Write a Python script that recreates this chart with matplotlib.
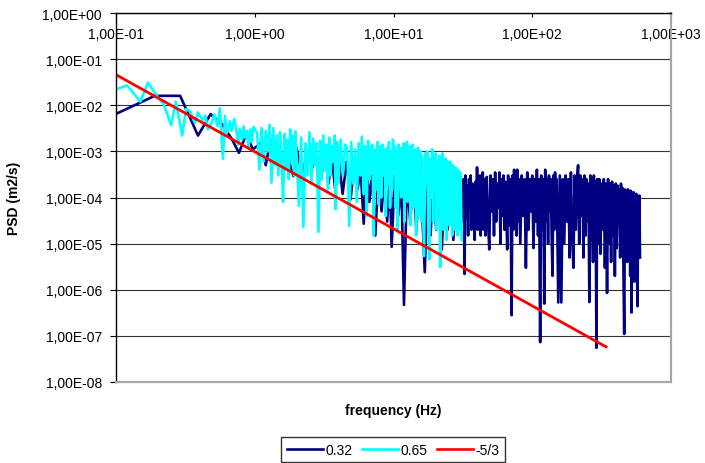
import math
import matplotlib
matplotlib.use("Agg")
import matplotlib.pyplot as plt
from matplotlib.ticker import FixedLocator, FuncFormatter, NullLocator
from matplotlib.lines import Line2D

plt.rcParams['font.family'] = ['Liberation Sans', 'DejaVu Sans']

# series 0.32 (navy)
f_032 = [0.1, 0.19, 0.29, 0.39, 0.48, 0.58, 0.68, 0.77, 0.87, 0.97,
         1.1, 1.2, 1.3, 1.4, 1.5, 1.6, 1.7, 1.8, 1.9, 2.0,
         2.2, 2.4, 2.6, 2.8, 3.0, 3.2, 3.4, 3.6, 3.8, 4.0,
         4.3, 4.6, 4.9, 5.2, 5.5, 5.8, 6.1, 6.4, 6.7, 7.0,
         7.4, 7.8, 8.2, 8.6, 9.0, 9.4, 9.7, 10.2, 10.8, 11.4,
         11.9, 12.5, 13.2, 13.9, 14.6, 15.4, 16.2, 16.8, 17.6, 18.5,
         19.4, 20.3, 21.3, 22.3, 23.4, 24.5, 25.7, 27.0, 28.4, 29.8,
         31, 31.5, 32, 32.5, 33, 33.5, 34, 34.5, 35, 35.5,
         36, 36.5, 37, 37.5, 38, 38.5, 39, 39.5, 40, 40.5,
         41, 41.5, 42, 42.5, 43, 43.5, 44, 44.5, 45,
         46, 47, 48, 49, 50, 51, 52, 53, 54, 55,
         56, 57, 58, 59, 60, 61, 62, 63, 64, 65,
         66, 67, 68, 69, 70, 71, 72, 73, 74, 75,
         76, 77, 78, 79, 80,
         82, 84, 86, 88, 90, 92, 94, 96, 98, 100,
         102, 104, 106, 108, 110, 112, 114, 116, 118, 120,
         122, 124, 126, 128, 130, 132, 134, 136, 138, 140,
         142, 144, 146, 148, 150,
         154, 158, 162, 166, 170, 174, 178, 182, 186, 190,
         194, 198, 202, 206, 210, 214, 218, 222, 226, 230,
         234, 238, 242, 246, 250, 254, 258, 262, 266, 270,
         274, 278, 282, 286, 290, 294, 298,
         304, 310, 316, 322, 328, 334, 340, 346, 352, 358,
         364, 370, 376, 382, 388, 394, 400, 406, 412, 418,
         424, 430, 436, 442, 448, 454, 460, 466, 472, 478,
         484, 490, 496, 502, 508, 514, 520, 526, 532, 538,
         544, 550, 556, 562, 568, 574, 580, 586, 592, 598]
psd_032 = [6.5e-3, 1.6e-2, 1.6e-2, 2.2e-3, 6.4e-3, 3.9e-3, 1.9e-3, 9.3e-4, 2.4e-3, 1.1e-3,
           1.5e-3, 5e-4, 1.8e-3, 6e-4, 1.2e-3, 4e-4, 1.5e-3, 5e-4, 2.9e-4, 1.2e-3,
           3e-4, 1e-3, 4.5e-4, 8e-4, 2.5e-4, 9e-4, 2e-4, 7e-4, 1.5e-4, 8e-4,
           1.2e-4, 6e-4, 9e-5, 5e-4, 1.5e-4, 4e-4, 2.7e-5, 5e-4, 8e-5, 3e-4,
           1.5e-5, 4e-4, 5e-5, 3e-4, 3e-5, 2.5e-4, 8.5e-6, 3e-4, 4e-5, 2e-4,
           4.7e-7, 2.5e-4, 3e-5, 3e-4, 2e-5, 2.5e-4, 3e-5, 2.4e-6, 2e-4, 1.5e-5,
           2.5e-4, 2e-5, 1.5e-4, 7.5e-6, 2e-4, 2e-5, 1.5e-4, 1.2e-5, 2e-4, 2e-5,
           2e-4, 3e-5, 2.5e-4, 2.2e-6, 3e-4, 4e-5, 1.8e-4, 1.5e-5, 2.5e-4, 6e-5,
           3e-4, 2e-5, 2e-4, 5e-5, 1.5e-4, 1.2e-5, 2.2e-4, 3e-5, 4.5e-4, 2e-5,
           2.5e-4, 8e-5, 3e-4, 1.5e-5, 2e-4, 4e-5, 3.5e-4, 2e-5, 2.5e-4,
           1.5e-5, 2.8e-4, 3e-5, 7.5e-6, 3e-4, 5e-5, 2.5e-4, 1.5e-5, 3.5e-4, 3e-5,
           2e-4, 6e-5, 3.5e-4, 1e-5, 2.5e-4, 4e-5, 3e-4, 2e-5, 2.2e-4, 5e-5,
           7.5e-6, 3e-4, 2.5e-5, 2.5e-4, 4e-5, 2.8e-7, 3e-4, 2e-5, 4e-4, 6e-5,
           2.5e-4, 1.5e-5, 4e-4, 3e-5, 2.5e-4,
           1e-5, 3e-4, 4e-5, 2.5e-4, 3e-6, 3.5e-4, 2e-5, 2.5e-4, 5e-5, 3e-4,
           8e-6, 2.5e-4, 3e-5, 4e-4, 1.5e-5, 2.5e-4, 7.3e-8, 3e-4, 2e-5, 2.5e-4,
           5e-7, 4e-4, 3e-5, 2.5e-4, 1e-5, 3e-4, 5e-5, 2.5e-4, 1.5e-5, 2e-6,
           3e-4, 2e-5, 3.5e-4, 4e-5, 2.5e-4,
           5.3e-7, 3e-4, 5.3e-7, 2.5e-4, 1e-5, 3e-4, 3e-5, 2.5e-4, 5e-6, 3.5e-4,
           1.5e-5, 3e-6, 3e-4, 2e-5, 2.5e-4, 5e-4, 1e-5, 3e-4, 4e-5, 2.5e-4,
           5e-6, 3e-4, 1.5e-5, 2.5e-4, 3e-5, 2e-4, 5.4e-7, 3e-4, 1.2e-5, 2.5e-4,
           4e-6, 3e-4, 2e-5, 2.2e-4, 5.5e-8, 2.5e-4, 1e-5,
           2.5e-4, 6e-6, 2e-4, 2e-5, 2.5e-4, 3e-6, 2e-4, 8.5e-7, 2.5e-4, 1e-5,
           2e-4, 4e-6, 2.2e-4, 1.5e-5, 1.8e-4, 2e-6, 2e-4, 8e-6, 1.8e-4, 3e-5,
           1.5e-4, 5e-6, 2e-4, 1.5e-5, 1.6e-4, 3e-6, 1.1e-7, 1.5e-4, 1e-5, 1.4e-4,
           4e-6, 1.5e-4, 2e-5, 1.2e-4, 2e-6, 1.4e-4, 3.2e-7, 1.2e-4, 8e-6, 1.3e-4,
           1.5e-6, 1e-4, 1e-5, 1.2e-4, 3e-6, 4.4e-7, 1e-4, 6e-6, 1.1e-4, 5e-6]

# series 0.65 (cyan)
f_065 = [0.1, 0.12, 0.15, 0.17, 0.2, 0.22, 0.25, 0.27, 0.3, 0.32,
         0.34, 0.37, 0.39, 0.42, 0.44, 0.46, 0.49, 0.51, 0.54, 0.56,
         0.59, 0.61, 0.63, 0.66, 0.68, 0.71, 0.73, 0.76, 0.78, 0.81,
         0.83, 0.85, 0.88, 0.9, 0.93, 0.95, 0.98,
         1.04, 1.08, 1.12, 1.16, 1.2, 1.24, 1.28, 1.32, 1.36, 1.4,
         1.44, 1.48, 1.52, 1.56, 1.6, 1.64, 1.68, 1.72, 1.76, 1.8,
         1.84, 1.88, 1.92, 1.96, 2.0,
         2.08, 2.16, 2.24, 2.32, 2.4, 2.48, 2.56, 2.64, 2.72, 2.8,
         2.88, 2.96, 3.04, 3.12, 3.2, 3.28, 3.36, 3.44, 3.52, 3.6,
         3.68, 3.76, 3.84, 3.92, 4.0,
         4.16, 4.32, 4.48, 4.64, 4.8, 4.96, 5.12, 5.28, 5.44, 5.6,
         5.76, 5.92, 6.08, 6.24, 6.4, 6.56, 6.72, 6.88, 7.04, 7.2,
         7.36, 7.52, 7.68, 7.84, 8.0,
         8.16, 8.32, 8.48, 8.64, 8.8, 8.96, 9.12, 9.28, 9.44, 9.6,
         9.76, 9.92, 10.08, 10.24, 10.4, 10.56, 10.72, 10.88, 11.04, 11.2,
         11.36, 11.52, 11.68, 11.84, 12.0, 12.16, 12.32, 12.48, 12.64, 12.8,
         12.96, 13.12, 13.28, 13.44, 13.6, 13.76, 13.92, 14.08, 14.24, 14.4,
         14.56, 14.72, 14.88, 15.04, 15.2, 15.36, 15.52, 15.68, 15.84, 16.0,
         16.3, 16.6, 16.9, 17.2, 17.5, 17.8, 18.1, 18.4, 18.7, 19.0,
         19.3, 19.6, 19.9, 20.2, 20.5, 20.8, 21.1, 21.4, 21.7, 22.0,
         22.3, 22.6, 22.9, 23.2, 23.5, 23.8, 24.1, 24.4, 24.7, 25.0,
         25.3, 25.6, 25.9, 26.2, 26.5, 26.8, 27.1, 27.4, 27.7, 28.0,
         28.3, 28.6, 28.9, 29.2, 29.5, 29.8, 30.1, 30.4, 30.7, 31.0]
psd_065 = [2.2e-2, 2.7e-2, 1.2e-2, 3.1e-2, 1.5e-2, 1.07e-2, 3.7e-3, 1.2e-2, 2.2e-3, 8.3e-3,
           7.6e-3, 4.2e-3, 7e-3, 4.8e-3, 5.9e-3, 3e-3, 4.2e-3, 6.4e-3, 3.5e-3, 8.6e-3,
           6.9e-4, 5.9e-3, 2.5e-3, 4.5e-3, 2.8e-3, 5e-3, 3.5e-3, 1.4e-3, 3.1e-3, 1.8e-3,
           3.5e-3, 2e-3, 2.8e-3, 1.2e-3, 3e-3, 1.6e-3, 3.4e-3,
           2.5e-3, 4e-4, 3.2e-3, 6e-4, 2.8e-3, 1e-3, 3.8e-3, 2.1e-4, 3.2e-3, 5e-4,
           2.2e-3, 3e-4, 2.6e-3, 8e-4, 8e-5, 2.4e-3, 4e-4, 1.8e-3, 2.5e-4, 3e-3,
           6e-4, 2.2e-3, 3e-4, 2.7e-3, 9e-4,
           6.6e-5, 2e-3, 2.3e-5, 1.5e-3, 3e-4, 2.6e-3, 2e-4, 1.9e-3, 5e-4, 1.5e-3,
           1.8e-5, 1.7e-3, 2.5e-4, 2.2e-3, 4e-4, 1.4e-3, 1.5e-4, 2e-3, 3e-4, 1.3e-3,
           6e-4, 2.2e-3, 5.6e-5, 1.6e-3, 2e-4,
           1.8e-3, 3e-4, 1.4e-3, 1.2e-3, 2.4e-5, 1.6e-3, 2e-4, 1.1e-3, 8e-5, 1.5e-3,
           3e-4, 2.1e-3, 1.2e-4, 1.3e-3, 4e-5, 1.7e-3, 2.5e-4, 1.2e-3, 1.4e-3, 1.5e-5,
           1.1e-3, 1.5e-4, 1.6e-3, 7e-5, 1.3e-3,
           1e-4, 1.4e-3, 3e-4, 1.1e-3, 4e-5, 1.2e-3, 2e-4, 1.6e-3, 6e-5, 1e-3,
           1.5e-4, 1.8e-3, 4e-4, 1.3e-3, 6e-5, 1e-3, 2e-5, 1.4e-3, 3e-4, 1.2e-3,
           1e-4, 9e-4, 2e-4, 1.5e-3, 3e-5, 1.1e-3, 1.5e-4, 1.6e-3, 8e-5, 1e-3,
           4e-4, 1.3e-3, 2.5e-5, 9e-4, 1.2e-4, 1.4e-3, 6e-5, 8e-4, 2e-4, 1.1e-3,
           1.5e-5, 9e-4, 1e-4, 1.2e-3, 4e-5, 7e-4, 2e-4, 1e-3, 3e-5, 8e-4,
           6e-5, 5.4e-6, 9e-4, 2e-4, 1e-3, 3e-5, 4.6e-6, 7e-4, 1e-4, 1.1e-3,
           3e-5, 8e-4, 1.5e-4, 9e-4, 2e-5, 6e-4, 8e-5, 8e-4, 3.1e-6, 7e-4,
           5e-5, 9e-4, 2e-5, 5e-4, 1e-4, 7e-4, 1.2e-5, 6e-4, 6e-5, 5e-4,
           2.5e-5, 6e-4, 1e-4, 4.5e-4, 1.5e-5, 5e-4, 5e-5, 4e-4, 2e-5, 4.5e-4,
           8e-5, 3.5e-4, 1.5e-5, 4e-4, 4e-5, 3e-4, 2e-5, 3.5e-4, 6e-5, 1.2e-5]

# -5/3 slope line
f_slope = [0.1, 340]
psd_slope = [4.6e-2, 5.8e-8]

x_ticks = [0.1, 1, 10, 100, 1000]
y_ticks = [1e-8, 1e-7, 1e-6, 1e-5, 1e-4, 1e-3, 1e-2, 1e-1, 1]
legend_labels = ['0.32', '0.65', '-5/3']
colors = ['#000080', '#00FFFF', '#FF0000']


def sci_label(v, pos=None):
    exp = int(round(math.log10(v)))
    return f"1,00E{exp:+03d}"


fig = plt.figure(figsize=(7.05, 4.64), dpi=100)
ax = fig.add_axes([116 / 705, 1 - 383 / 464, 555 / 705, 369 / 464])

ax.plot(f_032, psd_032, color=colors[0], lw=1.9, solid_joinstyle='round')
ax.plot(f_065, psd_065, color=colors[1], lw=1.9, solid_joinstyle='round')
ax.plot(f_slope, psd_slope, color=colors[2], lw=2.0)

ax.set_xscale('log')
ax.set_yscale('log')
ax.set_xlim(0.1, 1000)
ax.set_ylim(1e-8, 1)

ax.xaxis.set_major_locator(FixedLocator(x_ticks))
ax.yaxis.set_major_locator(FixedLocator(y_ticks))
ax.xaxis.set_minor_locator(NullLocator())
ax.yaxis.set_minor_locator(NullLocator())
ax.xaxis.set_major_formatter(FuncFormatter(sci_label))
ax.yaxis.set_major_formatter(FuncFormatter(sci_label))

ax.tick_params(axis='x', top=True, bottom=False, labeltop=True, labelbottom=False,
               direction='in', length=3, pad=-20, labelsize=10, color='black')
ax.tick_params(axis='y', direction='out', length=4, pad=6, labelsize=10, color='black')

ax.grid(axis='y', color='0.2', lw=0.8)
ax.grid(axis='x', visible=False)
ax.set_axisbelow(True)

ax.spines['left'].set_color('black')
ax.spines['top'].set_color('black')
ax.spines['left'].set_linewidth(1.0)
ax.spines['top'].set_linewidth(1.0)
ax.spines['right'].set_color('#a6a6a6')
ax.spines['bottom'].set_color('#a6a6a6')
ax.spines['right'].set_linewidth(1.6)
ax.spines['bottom'].set_linewidth(1.6)

ax.set_ylabel('PSD (m2/s)', fontsize=10, fontweight='bold')
ax.yaxis.set_label_coords(-0.171, 0.5)
fig.text(393 / 705, 1 - 411 / 464, 'frequency (Hz)', fontsize=10, fontweight='bold',
         ha='center', va='center')

handles = [Line2D([], [], color=c, lw=1.9) for c in colors]
leg = fig.legend(handles, legend_labels, loc='upper center', bbox_to_anchor=(393 / 705, 1 - 438 / 464),
                 ncol=3, frameon=True, fancybox=False, edgecolor='black', fontsize=10,
                 handlelength=2.6, handletextpad=0.15, columnspacing=0.7, borderpad=0.4,
                 borderaxespad=0)
leg.get_frame().set_linewidth(1.0)

fig.savefig('out.png', dpi=100)
